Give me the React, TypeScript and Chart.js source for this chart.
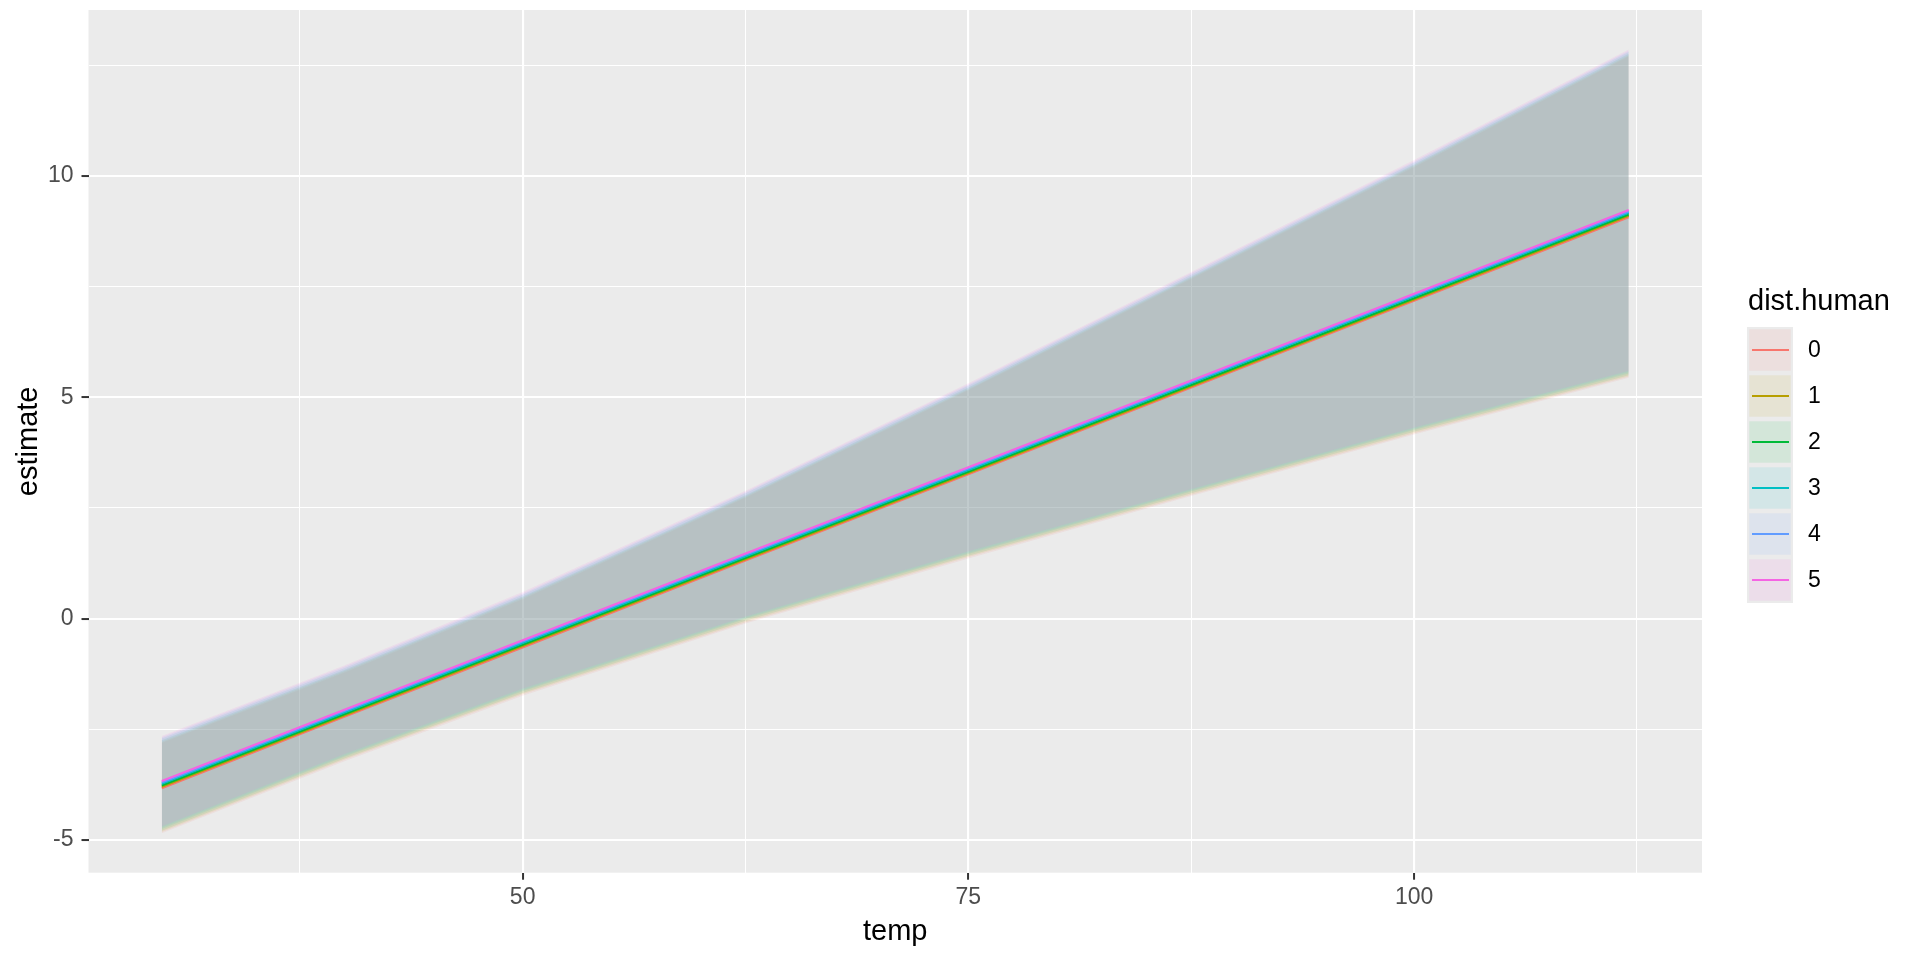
import { useEffect, useRef } from "react";
import { Chart, registerables } from "chart.js";

Chart.register(...registerables);

// temp values where the fitted lines and ribbons are sampled
const temps = [29.76, 40, 50, 62.5, 75, 87.5, 100, 112.04];

const groups = ["0", "1", "2", "3", "4", "5"];
const groupColors = ["#F8766D", "#B79F00", "#00BA38", "#00BFC4", "#619CFF", "#F564E3"];

const estimates: number[][] = [
  [-3.83, -2.22, -0.65, 1.31, 3.26, 5.22, 7.18, 9.07],
  [-3.8, -2.19, -0.62, 1.34, 3.29, 5.25, 7.21, 9.1],
  [-3.77, -2.16, -0.59, 1.37, 3.32, 5.28, 7.24, 9.13],
  [-3.73, -2.12, -0.55, 1.41, 3.36, 5.32, 7.28, 9.17],
  [-3.7, -2.09, -0.52, 1.44, 3.39, 5.35, 7.31, 9.2],
  [-3.67, -2.06, -0.49, 1.47, 3.42, 5.38, 7.34, 9.23],
];

const lowers: number[][] = [
  [-4.85, -3.22, -1.74, -0.11, 1.36, 2.77, 4.16, 5.44],
  [-4.82, -3.19, -1.71, -0.08, 1.39, 2.8, 4.19, 5.47],
  [-4.79, -3.16, -1.68, -0.05, 1.42, 2.83, 4.22, 5.5],
  [-4.75, -3.12, -1.64, -0.01, 1.46, 2.87, 4.26, 5.54],
  [-4.72, -3.09, -1.61, 0.02, 1.49, 2.9, 4.29, 5.57],
  [-4.69, -3.06, -1.58, 0.05, 1.52, 2.93, 4.32, 5.6],
];

const uppers: number[][] = [
  [-2.81, -1.22, 0.44, 2.73, 5.16, 7.67, 10.2, 12.7],
  [-2.78, -1.19, 0.47, 2.76, 5.19, 7.7, 10.23, 12.73],
  [-2.75, -1.16, 0.5, 2.79, 5.22, 7.73, 10.26, 12.76],
  [-2.71, -1.12, 0.54, 2.83, 5.26, 7.77, 10.3, 12.8],
  [-2.68, -1.09, 0.57, 2.86, 5.29, 7.8, 10.33, 12.83],
  [-2.65, -1.06, 0.6, 2.89, 5.32, 7.83, 10.36, 12.86],
];

const xMajorTicks = [50, 75, 100];
const xMinorTicks = [37.5, 62.5, 87.5, 112.5];
const yMajorTicks = [-5, 0, 5, 10];
const yMinorTicks = [-2.5, 2.5, 7.5, 12.5];

const FONT = "'Liberation Sans', Arial, sans-serif";
const PANEL_BG = "#EBEBEB";

function withAlpha(hex: string, a: number) {
  const r = parseInt(hex.slice(1, 3), 16);
  const g = parseInt(hex.slice(3, 5), 16);
  const b = parseInt(hex.slice(5, 7), 16);
  return `rgba(${r}, ${g}, ${b}, ${a})`;
}

const toPoints = (ys: number[]) => ys.map((y, i) => ({ x: temps[i], y }));

export default function App() {
  const canvasRef = useRef<HTMLCanvasElement>(null);

  useEffect(() => {
    if (!canvasRef.current) return;

    const ribbonSets = groups.flatMap((g, i) => [
      {
        label: `lower ${g}`,
        data: toPoints(lowers[i]),
        borderWidth: 0,
        borderColor: "rgba(0,0,0,0)",
        pointRadius: 0,
        fill: false,
        order: 20 - i,
      },
      {
        label: `upper ${g}`,
        data: toPoints(uppers[i]),
        borderWidth: 0,
        borderColor: "rgba(0,0,0,0)",
        backgroundColor: withAlpha(groupColors[i], 0.1),
        pointRadius: 0,
        fill: "-1",
        order: 20 - i,
      },
    ]);

    const lineSets = groups.map((g, i) => ({
      label: g,
      data: toPoints(estimates[i]),
      borderColor: groupColors[i],
      borderWidth: 2.1,
      pointRadius: 0,
      fill: false,
      order: 5 - i,
    }));

    const isMajor = (list: number[], v: number) => list.includes(v);

    const chart = new Chart(canvasRef.current, {
      type: "line",
      data: { datasets: [...ribbonSets, ...lineSets] as any },
      options: {
        animation: false,
        responsive: true,
        maintainAspectRatio: false,
        events: [],
        layout: { padding: { top: 10, right: 218, left: 0, bottom: 0 } },
        plugins: {
          legend: { display: false },
          tooltip: { enabled: false },
        },
        scales: {
          x: {
            type: "linear",
            min: 25.65,
            max: 116.15,
            border: { display: false },
            afterBuildTicks: (scale) => {
              scale.ticks = [...xMinorTicks, ...xMajorTicks]
                .sort((a, b) => a - b)
                .map((value) => ({ value }));
            },
            afterFit: (scale: any) => {
              scale.height = 87.3;
              scale.paddingLeft = 0;
              scale.paddingRight = 0;
            },
            grid: {
              color: "#FFFFFF",
              lineWidth: (ctx) => (isMajor(xMajorTicks, ctx.tick?.value) ? 2.1 : 1.05),
              tickColor: (ctx) =>
                isMajor(xMajorTicks, ctx.tick?.value) ? "#333333" : "rgba(0,0,0,0)",
              tickLength: 7,
              tickWidth: 2,
            },
            ticks: {
              autoSkip: false,
              maxRotation: 0,
              padding: 4,
              color: "#4D4D4D",
              font: { family: FONT, size: 23 },
              callback: (value) => (isMajor(xMajorTicks, value as number) ? String(value) : ""),
            },
          },
          y: {
            type: "linear",
            min: -5.74,
            max: 13.75,
            border: { display: false },
            afterBuildTicks: (scale) => {
              scale.ticks = [...yMinorTicks, ...yMajorTicks]
                .sort((a, b) => a - b)
                .map((value) => ({ value }));
            },
            afterFit: (scale: any) => {
              scale.width = 88.5;
              scale.paddingTop = 0;
              scale.paddingBottom = 0;
            },
            grid: {
              color: "#FFFFFF",
              lineWidth: (ctx) => (isMajor(yMajorTicks, ctx.tick?.value) ? 2.1 : 1.05),
              tickColor: (ctx) =>
                isMajor(yMajorTicks, ctx.tick?.value) ? "#333333" : "rgba(0,0,0,0)",
              tickLength: 7,
              tickWidth: 2,
            },
            ticks: {
              autoSkip: false,
              padding: 8,
              color: "#4D4D4D",
              font: { family: FONT, size: 23 },
              callback: (value) => (isMajor(yMajorTicks, value as number) ? String(value) : ""),
            },
          },
        },
      },
      plugins: [
        {
          id: "panelBackground",
          beforeDraw: (c) => {
            const { ctx, chartArea } = c;
            ctx.save();
            ctx.fillStyle = PANEL_BG;
            ctx.fillRect(
              chartArea.left,
              chartArea.top,
              chartArea.right - chartArea.left,
              chartArea.bottom - chartArea.top
            );
            ctx.restore();
          },
        },
        {
          id: "titlesAndLegend",
          afterDraw: (c) => {
            const { ctx, chartArea } = c;
            ctx.save();
            // axis titles
            ctx.fillStyle = "#000000";
            ctx.font = `29px ${FONT}`;
            ctx.textAlign = "center";
            ctx.textBaseline = "alphabetic";
            ctx.fillText("temp", (chartArea.left + chartArea.right) / 2, 940);
            ctx.save();
            ctx.translate(37, (chartArea.top + chartArea.bottom) / 2);
            ctx.rotate(-Math.PI / 2);
            ctx.fillText("estimate", 0, 0);
            ctx.restore();

            // legend
            const keyLeft = 1747;
            const keyTop = 327;
            const keySize = 46;
            ctx.textAlign = "left";
            ctx.fillText("dist.human", 1748, 310);
            ctx.fillStyle = PANEL_BG;
            ctx.fillRect(keyLeft, keyTop, keySize, keySize * groups.length);
            groups.forEach((g, i) => {
              const top = keyTop + i * keySize;
              ctx.fillStyle = withAlpha(groupColors[i], 0.1);
              ctx.fillRect(keyLeft + 2.3, top + 2.3, keySize - 4.6, keySize - 4.6);
              ctx.strokeStyle = groupColors[i];
              ctx.lineWidth = 2;
              ctx.beginPath();
              ctx.moveTo(keyLeft + 5, top + keySize / 2);
              ctx.lineTo(keyLeft + keySize - 4, top + keySize / 2);
              ctx.stroke();
              ctx.fillStyle = "#000000";
              ctx.font = `23px ${FONT}`;
              ctx.textBaseline = "middle";
              ctx.fillText(g, 1808, top + keySize / 2 + 1);
            });
            ctx.restore();
          },
        },
      ],
    });

    return () => chart.destroy();
  }, []);

  return (
    <div
      style={{
        position: "fixed",
        left: 0,
        top: 0,
        width: 1920,
        height: 960,
        background: "#FFFFFF",
      }}
    >
      <canvas ref={canvasRef}></canvas>
    </div>
  );
}
